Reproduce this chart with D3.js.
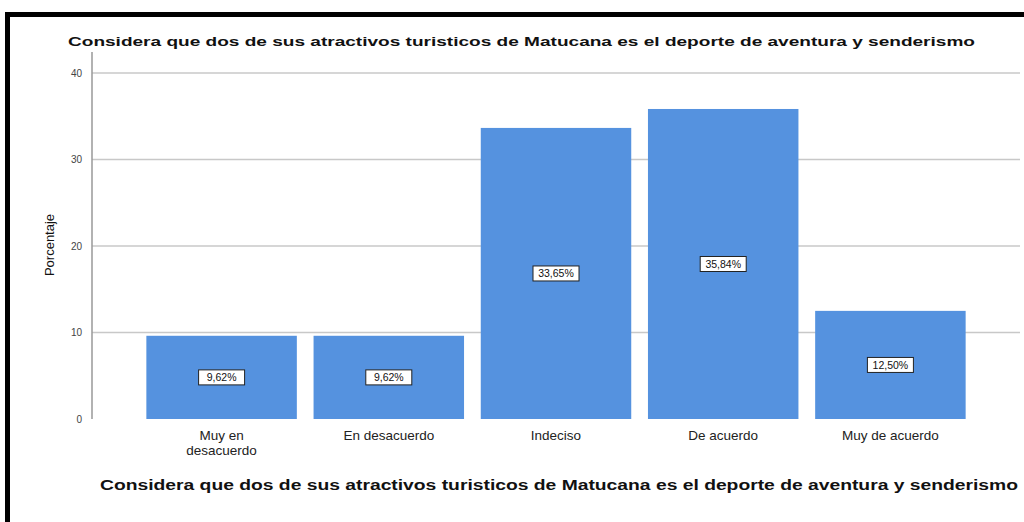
<!DOCTYPE html>
<html><head><meta charset="utf-8">
<script src="https://cdn.jsdelivr.net/npm/d3@7/dist/d3.min.js"></script>
<style>body{margin:0;background:#fff}svg{display:block}</style>
</head><body>
<svg id="c" width="1024" height="522"></svg>
<script>
const categories = [["Muy en","desacuerdo"],["En desacuerdo"],["Indeciso"],["De acuerdo"],["Muy de acuerdo"]];
const values = [9.62, 9.62, 33.65, 35.84, 12.50];
const yTicks = [0, 10, 20, 30, 40];
const title = "Considera que dos de sus atractivos turisticos de Matucana es el deporte de aventura y senderismo";
const yTitle = "Porcentaje";

const svg = d3.select("#c");
const font = "Liberation Sans, Arial, sans-serif";

svg.append("rect").attr("x",7.5).attr("y",14.5).attr("width",1030).attr("height",530)
  .attr("fill","#fff").attr("stroke","#000").attr("stroke-width",5);

const y = d3.scaleLinear().domain([0,40]).range([419,73]);
const x = d3.scaleBand().domain(d3.range(values.length)).range([138,974]).paddingInner(0.1).paddingOuter(0.05);

// gridlines
svg.append("g").selectAll("line").data(yTicks.filter(d=>d>0)).join("line")
  .attr("x1",92).attr("x2",1020).attr("y1",d=>y(d)).attr("y2",d=>y(d))
  .attr("stroke","#c8c8c8").attr("stroke-width",1.5);

// y axis
const yAxis = svg.append("g").attr("transform","translate(92,0)")
  .call(d3.axisLeft(y).tickValues(yTicks).tickSize(0).tickPadding(10));
yAxis.select(".domain").remove();
yAxis.selectAll("text").attr("font-family",font).attr("font-size",10).attr("fill","#444");
svg.append("line").attr("x1",92).attr("x2",92).attr("y1",52).attr("y2",419).attr("stroke","#999").attr("stroke-width",1.5);

// bars
svg.append("g").selectAll("rect").data(values).join("rect")
  .attr("x",(d,i)=>x(i)).attr("width",x.bandwidth())
  .attr("y",d=>y(d)).attr("height",d=>y(0)-y(d))
  .attr("fill","#5592df");

// data labels
const lab = svg.append("g").selectAll("g").data(values).join("g")
  .attr("transform",(d,i)=>`translate(${x(i)+x.bandwidth()/2},${(y(d)+y(0))/2})`);
lab.append("rect").attr("x",-23).attr("y",-7.5).attr("width",46).attr("height",15)
  .attr("fill","#fff").attr("stroke","#222").attr("stroke-width",1);
lab.append("text").attr("text-anchor","middle").attr("dy","0.35em")
  .attr("font-family",font).attr("font-size",10.5).attr("fill","#111")
  .text(d=>d.toFixed(2).replace(".",",")+"%");

// category labels
const cat = svg.append("g").selectAll("text").data(categories).join("text")
  .attr("x",(d,i)=>x(i)+x.bandwidth()/2).attr("y",440)
  .attr("text-anchor","middle").attr("font-family",font).attr("font-size",13.5).attr("fill","#222");
cat.selectAll("tspan").data(d=>d).join("tspan")
  .attr("x",function(){return this.parentNode.getAttribute("x");})
  .attr("dy",(d,i)=>i===0?0:15).text(d=>d);

// titles
svg.append("text").attr("x",68).attr("y",46).attr("font-family",font).attr("font-size",12.5)
  .attr("font-weight","bold").attr("fill","#111").attr("textLength",907).attr("lengthAdjust","spacingAndGlyphs").text(title);
svg.append("text").attr("x",100).attr("y",490).attr("font-family",font).attr("font-size",14)
  .attr("font-weight","bold").attr("fill","#111").attr("textLength",918).attr("lengthAdjust","spacingAndGlyphs").text(title);
svg.append("text").attr("transform","translate(54,245) rotate(-90)").attr("text-anchor","middle")
  .attr("font-family",font).attr("font-size",13).attr("fill","#111").text(yTitle);
</script>
</body></html>
